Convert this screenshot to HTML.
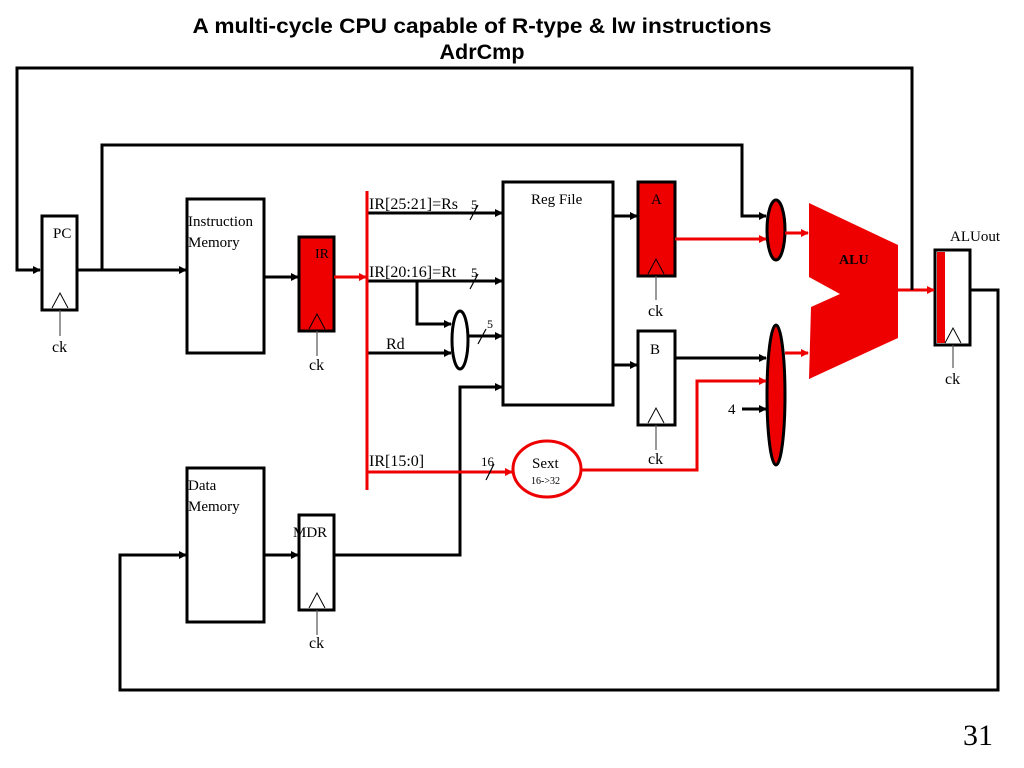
<!DOCTYPE html>
<html><head><meta charset="utf-8"><style>
html,body{margin:0;padding:0;background:#fff;width:1024px;height:768px;overflow:hidden}
svg{display:block}
.t{font-family:"Liberation Serif",serif;font-size:15px;fill:#000}
</style></head><body>
<svg width="1024" height="768" viewBox="0 0 1024 768" xmlns="http://www.w3.org/2000/svg">
<defs>
<marker id="ab" markerWidth="8" markerHeight="8" refX="7" refY="4" orient="auto" markerUnits="userSpaceOnUse"><path d="M0,0 L8,4 L0,8 z" fill="#000"/></marker>
<marker id="ar" markerWidth="8" markerHeight="8" refX="7" refY="4" orient="auto" markerUnits="userSpaceOnUse"><path d="M0,0 L8,4 L0,8 z" fill="#e00"/></marker>
</defs>
<text x="482" y="33" text-anchor="middle" font-family="Liberation Sans,sans-serif" font-weight="bold" font-size="21" textLength="579" lengthAdjust="spacingAndGlyphs">A multi-cycle CPU capable of R-type &amp; lw instructions</text>
<text x="482" y="59" text-anchor="middle" font-family="Liberation Sans,sans-serif" font-weight="bold" font-size="21" textLength="85" lengthAdjust="spacingAndGlyphs">AdrCmp</text>

<g fill="none" stroke="#000" stroke-width="3">
<polyline points="912,290 912,68 17,68 17,270 40,270" marker-end="url(#ab)"/>
<polyline points="102,270 102,145 742,145 742,216 766,216" marker-end="url(#ab)"/>
<line x1="77" y1="270" x2="186" y2="270" marker-end="url(#ab)"/>
<line x1="264" y1="277" x2="298" y2="277" marker-end="url(#ab)"/>
<line x1="367" y1="213" x2="502" y2="213" marker-end="url(#ab)"/>
<line x1="367" y1="281" x2="502" y2="281" marker-end="url(#ab)"/>
<polyline points="417,281 417,324 451,324" marker-end="url(#ab)"/>
<line x1="367" y1="353" x2="451" y2="353" marker-end="url(#ab)"/>
<line x1="468" y1="336" x2="502" y2="336" marker-end="url(#ab)"/>
<polyline points="334,555 460,555 460,387 502,387" marker-end="url(#ab)"/>
<line x1="264" y1="555" x2="298" y2="555" marker-end="url(#ab)"/>
<line x1="613" y1="216" x2="637" y2="216" marker-end="url(#ab)"/>
<line x1="613" y1="365" x2="637" y2="365" marker-end="url(#ab)"/>
<line x1="675" y1="358" x2="766" y2="358" marker-end="url(#ab)"/>
<line x1="742" y1="409" x2="766" y2="409" marker-end="url(#ab)"/>
<polyline points="970,290 998,290 998,690 120,690 120,555 186,555" marker-end="url(#ab)"/>
<rect x="42" y="216" width="35" height="94" fill="#fff"/>
<rect x="187" y="199" width="77" height="154" fill="#fff"/>
<rect x="299" y="237" width="35" height="94" fill="#e00"/>
<rect x="503" y="182" width="110" height="223" fill="#fff"/>
<rect x="638" y="182" width="37" height="94" fill="#e00"/>
<rect x="638" y="331" width="37" height="94" fill="#fff"/>
<rect x="187" y="468" width="77" height="154" fill="#fff"/>
<rect x="299" y="515" width="35" height="95" fill="#fff"/>
<rect x="935" y="250" width="35" height="95" fill="#fff"/>
<ellipse cx="460" cy="340" rx="8" ry="29" fill="#fff"/>
<ellipse cx="776" cy="230" rx="9" ry="30" fill="#e00"/>
<ellipse cx="776" cy="395" rx="9" ry="70" fill="#e00"/>
</g>
<rect x="937" y="252" width="8" height="91" fill="#e00"/>
<g fill="none" stroke="#000" stroke-width="1">
<polyline points="52,308 60,293 68,308"/>
<polyline points="309,329 317,314 325,329"/>
<polyline points="648,274 656,259 664,274"/>
<polyline points="648,423 656,408 664,423"/>
<polyline points="309,608 317,593 325,608"/>
<polyline points="945,343 953,328 961,343"/>
</g>
<g stroke="#555" stroke-width="1.2">
<line x1="60" y1="310" x2="60" y2="336"/>
<line x1="317" y1="331" x2="317" y2="356"/>
<line x1="656" y1="276" x2="656" y2="300"/>
<line x1="656" y1="425" x2="656" y2="450"/>
<line x1="317" y1="610" x2="317" y2="635"/>
<line x1="953" y1="345" x2="953" y2="368"/>
</g>
<g fill="none" stroke="#e00" stroke-width="3">
<line x1="367" y1="191" x2="367" y2="490"/>
<line x1="334" y1="277" x2="366" y2="277" marker-end="url(#ar)"/>
<line x1="367" y1="472" x2="512" y2="472" marker-end="url(#ar)"/>
<polyline points="581,470 697,470 697,381 766,381" marker-end="url(#ar)"/>
<line x1="675" y1="239" x2="766" y2="239" marker-end="url(#ar)"/>
<line x1="785" y1="233" x2="808" y2="233" marker-end="url(#ar)"/>
<line x1="785" y1="353" x2="808" y2="353" marker-end="url(#ar)"/>
<line x1="898" y1="290" x2="934" y2="290" marker-end="url(#ar)"/>
<ellipse cx="547" cy="469" rx="34" ry="28" fill="#fff"/>
</g>
<polygon points="809,203 898,245 898,338 809,379 811,307 840,294 809,277" fill="#e00"/>
<line x1="912" y1="68" x2="912" y2="290" stroke="#000" stroke-width="3"/>
<g stroke="#000" stroke-width="1.2">
<line x1="470" y1="220" x2="478" y2="205"/>
<line x1="470" y1="289" x2="478" y2="274"/>
<line x1="478" y1="344" x2="486" y2="329"/>
<line x1="486" y1="480" x2="494" y2="464"/>
</g>
<text class="t" x="53" y="238">PC</text>
<text class="t" x="188" y="226">Instruction</text>
<text class="t" x="188" y="247">Memory</text>
<text class="t" x="315" y="258" style="font-size:14px">IR</text>
<text class="t" x="52" y="352" style="font-size:16px">ck</text>
<text class="t" x="309" y="370" style="font-size:16px">ck</text>
<text class="t" x="648" y="316" style="font-size:16px">ck</text>
<text class="t" x="648" y="464" style="font-size:16px">ck</text>
<text class="t" x="309" y="648" style="font-size:16px">ck</text>
<text class="t" x="945" y="384" style="font-size:16px">ck</text>
<text class="t" x="369" y="209" style="font-size:16px">IR[25:21]=Rs</text>
<text class="t" x="471" y="209" style="font-size:13px">5</text>
<text class="t" x="369" y="277" style="font-size:16px">IR[20:16]=Rt</text>
<text class="t" x="471" y="277" style="font-size:13px">5</text>
<text class="t" x="487" y="328" style="font-size:12px">5</text>
<text class="t" x="386" y="349" style="font-size:16px">Rd</text>
<text class="t" x="369" y="466" style="font-size:16px">IR[15:0]</text>
<text class="t" x="481" y="466" style="font-size:13px">16</text>
<text class="t" x="532" y="468" style="font-size:15px">Sext</text>
<text class="t" x="531" y="484" style="font-size:10px">16-&gt;32</text>
<text class="t" x="531" y="204">Reg File</text>
<text class="t" x="651" y="204">A</text>
<text class="t" x="650" y="354">B</text>
<text class="t" x="728" y="414">4</text>
<text class="t" x="839" y="264" style="font-size:14px;font-weight:bold">ALU</text>
<text class="t" x="950" y="241">ALUout</text>
<text class="t" x="188" y="490">Data</text>
<text class="t" x="188" y="511">Memory</text>
<text class="t" x="293" y="537">MDR</text>
<text class="t" x="963" y="745" style="font-size:30px">31</text>
</svg>
</body></html>
